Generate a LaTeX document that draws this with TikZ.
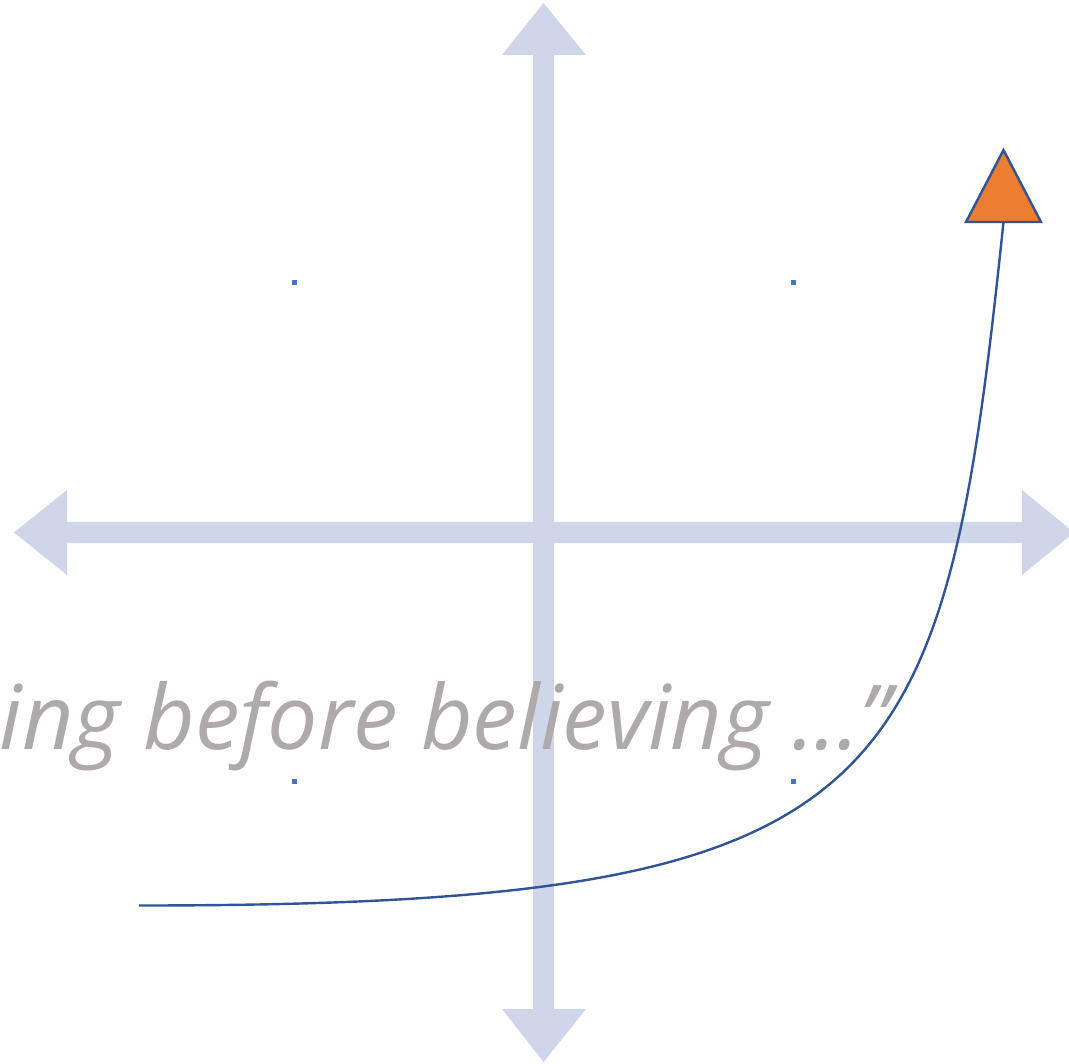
\documentclass[tikz,border=0pt]{standalone}
\usepackage{fontspec}
\setmainfont{Open Sans}
\definecolor{axisfill}{RGB}{208,214,234}
\definecolor{dotblue}{RGB}{68,114,196}
\definecolor{curveblue}{RGB}{47,85,151}
\definecolor{tri}{RGB}{237,125,49}
\definecolor{quotegray}{RGB}{174,170,170}
\begin{document}
\begin{tikzpicture}[x=1pt,y=-1pt,
  axis/.style={fill=axisfill,draw=none},
  dot/.style={fill=dotblue,draw=none,minimum size=5pt,inner sep=0pt,rectangle},
  curve/.style={draw=curveblue,line width=2.4pt},
  quote/.style={text=quotegray,font=\itshape\fontsize{89.5}{100}\selectfont,inner sep=0pt}]
\useasboundingbox (0,0) rectangle (1069,1064);
\clip (0,0) rectangle (1069,1064);
% vertical double arrow
\path[axis] (543.5,3) -- (586,55) -- (554,55) -- (554,1009) -- (586,1009) -- (543.5,1062)
  -- (502,1009) -- (533,1009) -- (533,55) -- (502,55) -- cycle;
% horizontal double arrow
\path[axis] (14,532.5) -- (67,490) -- (67,522) -- (1022,522) -- (1022,490) -- (1074,532.5)
  -- (1022,575) -- (1022,543) -- (67,543) -- (67,575) -- cycle;
% dots
\node[dot] (d1) at (294,283) {};
\node[dot] (d2) at (793,283) {};
\node[dot] (d3) at (294,781) {};
\node[dot] (d4) at (793,781) {};
% quote
\node[quote,anchor=base east] (q) at (891,749) {ing before believing ...”};
% curve and triangle
\coordinate (start) at (139,905.5);
\coordinate (tbase) at (1003.5,222);
\draw[curve] (start) .. controls (900,905.5) and (943,800) .. (tbase);
\path[fill=tri,draw=curveblue,line width=2.4pt,line join=miter] (1003.5,150) -- (1041,222) -- (966,222) -- cycle;
\end{tikzpicture}
\end{document}
